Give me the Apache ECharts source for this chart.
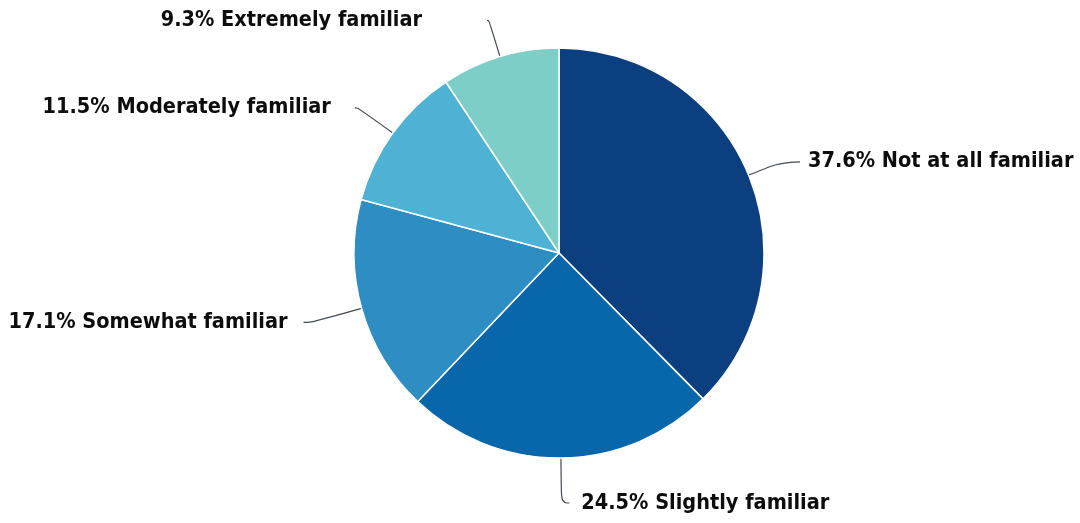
<!DOCTYPE html>
<html>
<head>
<meta charset="utf-8">
<script src="https://cdn.jsdelivr.net/npm/echarts@6/dist/echarts.min.js"></script>
<style>
  html, body { margin: 0; padding: 0; background: #fff; }
  #chart { width: 1080px; height: 523px; }
</style>
</head>
<body>
<div id="chart"></div>
<script>
const categories = ['Not at all familiar', 'Slightly familiar', 'Somewhat familiar', 'Moderately familiar', 'Extremely familiar']
const values = [37.6, 24.5, 17.1, 11.5, 9.3]
const colors = ['#0b3f80', '#0866aa', '#2e8ec3', '#4fb2d4', '#7ccec7']

// leader line tuning per slice: [length, length2, distanceToLabelLine]
const leaders = [
  [35, 19, 8],
  [45, 8, 12],
  [52, 8, 16],
  [43, 3, 24],
  [38, 2, 65]
]

const chart = echarts.init(document.getElementById('chart'))

const data = categories.map((name, i) => ({
  name: name,
  value: values[i],
  itemStyle: { color: colors[i] },
  label: { distanceToLabelLine: leaders[i][2] },
  labelLine: { length: leaders[i][0], length2: leaders[i][1] }
}))

chart.setOption({
  animation: false,
  series: [
    {
      type: 'pie',
      center: [559, 253],
      radius: 205,
      startAngle: 90,
      clockwise: true,
      data: data,
      itemStyle: {
        borderColor: '#ffffff',
        borderWidth: 1.5
      },
      label: {
        show: true,
        position: 'outside',
        formatter: p => p.value.toFixed(1) + '% ' + p.name,
        fontFamily: '"DejaVu Sans Condensed", "Liberation Sans Narrow", sans-serif',
        fontWeight: 'bold',
        fontSize: 21.5,
        color: '#0d0d0d',
        overflow: 'none'
      },
      labelLine: {
        show: true,
        smooth: 0.5,
        lineStyle: {
          color: '#444a55',
          width: 1.2
        }
      },
      labelLayout: { hideOverlap: false }
    }
  ]
})
</script>
</body>
</html>
